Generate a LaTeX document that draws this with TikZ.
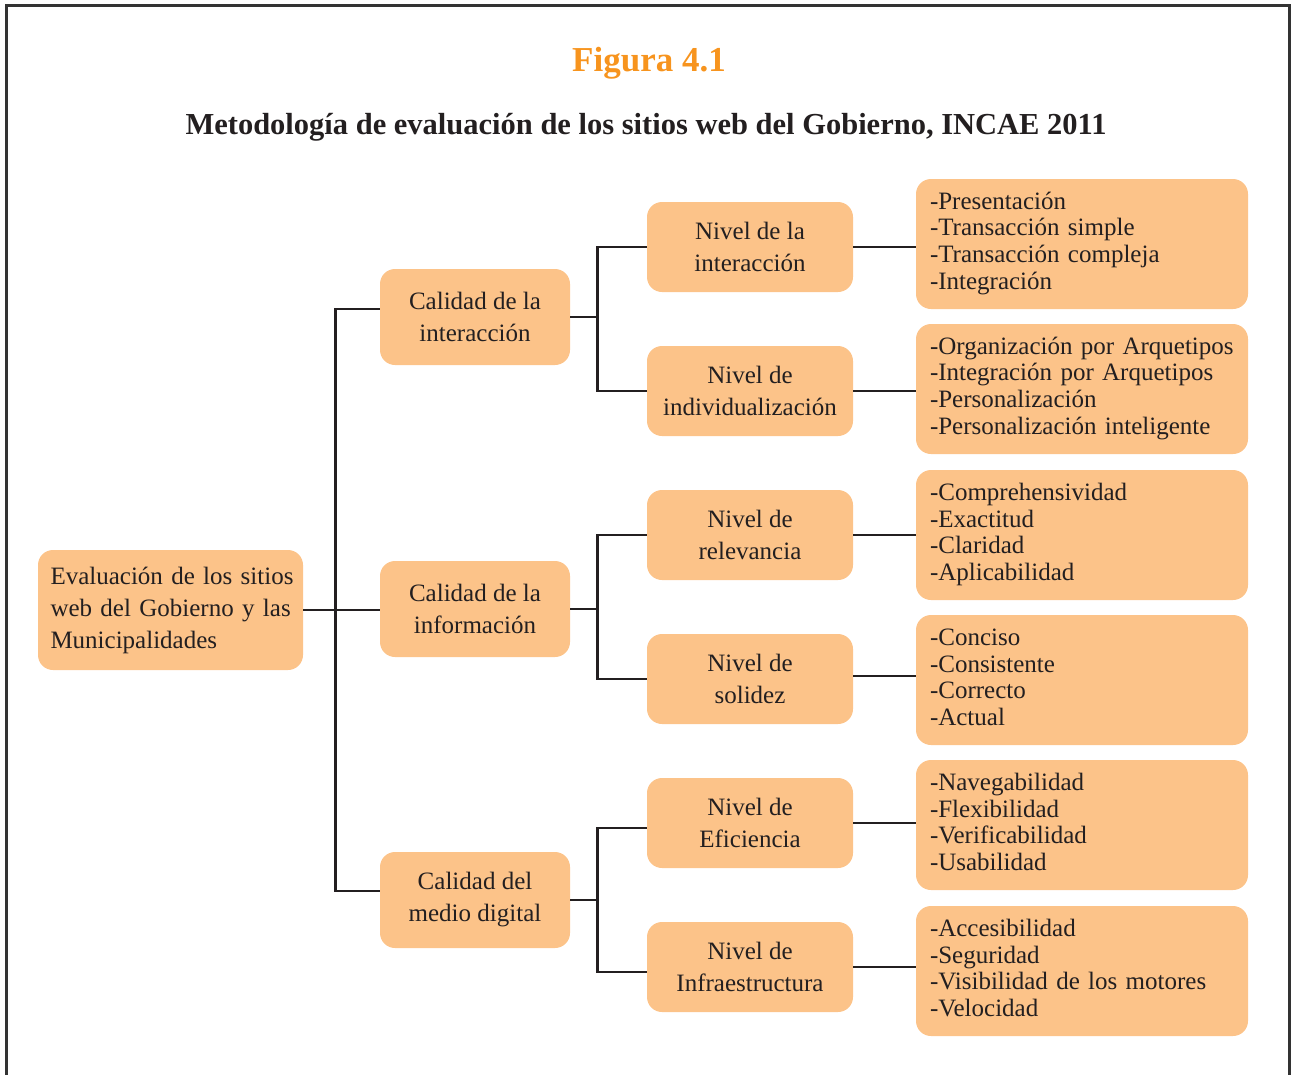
\documentclass[tikz,border=0pt]{standalone}
\usepackage{fontspec}
\setmainfont{Liberation Serif}
\usetikzlibrary{calc}
\definecolor{peach}{HTML}{FCC389}
\definecolor{ink}{HTML}{231F20}
\definecolor{figorange}{HTML}{F7941E}
\definecolor{framegray}{HTML}{333333}
% a left-aligned stack of list lines, set slightly below the box centre
\newcommand\listlines[1]{\raisebox{-4pt}{\begin{tabular}{@{}l@{}}#1\end{tabular}}}
\begin{document}
\begin{tikzpicture}[x=1pt,y=-1pt,
  box/.style={fill=peach, rounded corners=15pt, text=ink, inner sep=0pt,
    font=\fontsize{25}{32}\selectfont, align=center},
  rootbox/.style={box, minimum width=265pt, minimum height=120pt, align=left,
    text width=240pt},
  catbox/.style={box, minimum width=190pt, minimum height=96pt},
  levelbox/.style={box, minimum width=206pt, minimum height=90pt},
  itembox/.style={box, minimum width=332pt, minimum height=130pt, align=left,
    text width=304pt, font=\fontsize{25}{26.7}\selectfont},
  link/.style={draw=ink, line width=2.6pt}]
\useasboundingbox (0,0) rectangle (1292,1074);

% frame open at the bottom
\draw[framegray, line width=3pt] (6,1090) -- (6,5) -- (1289,5) -- (1289,1090);

% titles
\node[text=figorange, font=\fontsize{35}{40}\selectfont\bfseries] (fig) at (649,63) {Figura 4.1};
\node[text=ink, font=\fontsize{30.5}{34}\selectfont\bfseries] (title) at (646,127)
  {Metodología de evaluación de los sitios web del Gobierno, INCAE 2011};

% root
\node[rootbox] (root) at (170.5,610)
  {\mbox{Evaluación de los sitios}\\\mbox{web del Gobierno y las}\\Municipalidades};

% categories
\node[catbox] (c1) at (475,317) {Calidad de la\\interacción};
\node[catbox] (c2) at (475,609) {Calidad de la\\información};
\node[catbox] (c3) at (475,900) {Calidad del\\medio digital};

% levels
\node[levelbox] (n1) at (750,247) {Nivel de la\\interacción};
\node[levelbox] (n2) at (750,391) {Nivel de\\individualización};
\node[levelbox] (n3) at (750,535) {Nivel de\\relevancia};
\node[levelbox] (n4) at (750,679) {Nivel de\\solidez};
\node[levelbox] (n5) at (750,823) {Nivel de\\Eficiencia};
\node[levelbox] (n6) at (750,967) {Nivel de\\Infraestructura};

% item lists
\node[itembox] (i1) at (1082,244)
  {\listlines{-Presentación\\-Transacción simple\\-Transacción compleja\\-Integración}};
\node[itembox] (i2) at (1082,389)
  {\listlines{-Organización por Arquetipos\\-Integración por Arquetipos\\-Personalización\\-Personalización inteligente}};
\node[itembox] (i3) at (1082,535)
  {\listlines{-Comprehensividad\\-Exactitud\\-Claridad\\-Aplicabilidad}};
\node[itembox] (i4) at (1082,680)
  {\listlines{-Conciso\\-Consistente\\-Correcto\\-Actual}};
\node[itembox] (i5) at (1082,825)
  {\listlines{-Navegabilidad\\-Flexibilidad\\-Verificabilidad\\-Usabilidad}};
\node[itembox] (i6) at (1082,971)
  {\listlines{-Accesibilidad\\-Seguridad\\-Visibilidad de los motores\\-Velocidad}};

% root to categories
\coordinate (b0) at ($(root.east)+(32,0)$);
\draw[link] (root.east) -- (b0);
\draw[link] ([yshift=8pt]c1.west) -| (b0);
\draw[link] ([yshift=9pt]c3.west) -| (b0);
\draw[link] (b0) -- (b0 -| c2.west);

% categories to levels
\coordinate (b1) at ($(c1.east)+(27,0)$);
\draw[link] (c1.east) -- (b1);
\draw[link] (n1.west) -| (b1) |- (n2.west);
\coordinate (b2) at ($(c2.east)+(27,0)$);
\draw[link] (c2.east) -- (b2);
\draw[link] (n3.west) -| (b2) |- (n4.west);
\coordinate (b3) at ($(c3.east)+(27,0)$);
\draw[link] (c3.east) -- (b3);
\draw[link] ([yshift=-5pt]n5.west) -| (b3) |- ([yshift=-5pt]n6.west);

% levels to item lists
\draw[link] (n1.east) -- (n1.east -| i1.west);
\draw[link] (n2.east) -- (n2.east -| i2.west);
\draw[link] (n3.east) -- (n3.east -| i3.west);
\draw[link] ([yshift=3pt]n4.east) -- ([yshift=3pt]n4.east -| i4.west);
\draw[link] (n5.east) -- (n5.east -| i5.west);
\draw[link] (n6.east) -- (n6.east -| i6.west);
\end{tikzpicture}
\end{document}
